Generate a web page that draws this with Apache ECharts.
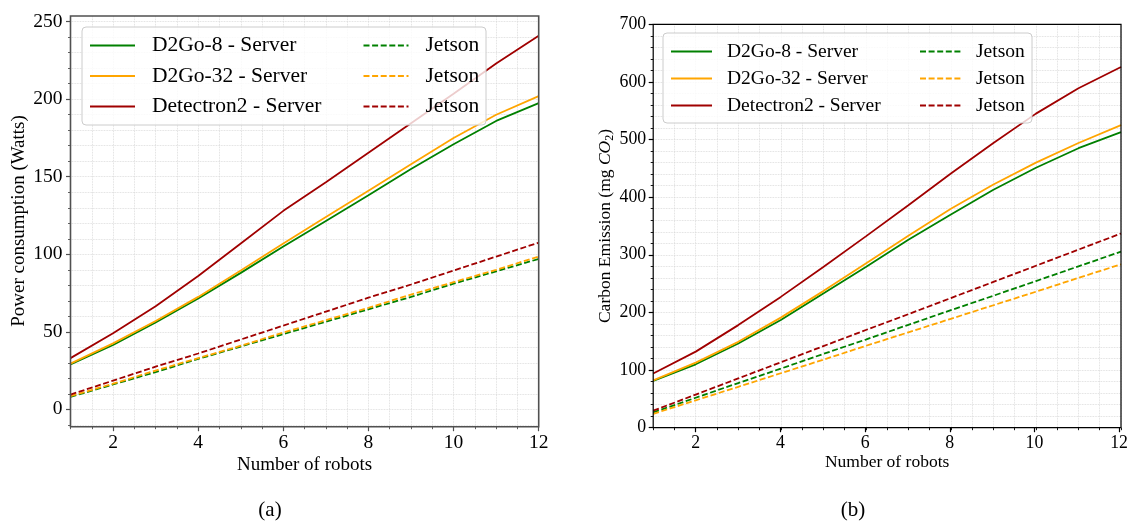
<!DOCTYPE html>
<html><head><meta charset="utf-8">
<script src="https://cdn.jsdelivr.net/npm/echarts@6/dist/echarts.min.js"></script>
<style>html,body{margin:0;padding:0;background:#fff}#c{width:1131px;height:523px}</style>
</head><body><div id="c"></div>
<script>
// ---------------- data ----------------
const robots = [1, 2, 3, 4, 5, 6, 7, 8, 9, 10, 11, 12];
const serverNames = ['D2Go-8 - Server', 'D2Go-32 - Server', 'Detectron2 - Server'];
const jetsonNames = ['D2Go-8 - Jetson', 'D2Go-32 - Jetson', 'Detectron2 - Jetson'];

const powerD2Go8Server      = [29, 41.5, 56, 71.5, 88, 105, 121.5, 138, 155, 171, 186, 197.5];
const powerD2Go32Server     = [29.5, 42.5, 57, 72.5, 89.5, 107, 124, 141, 158, 175, 190, 202];
const powerDetectron2Server = [33, 49, 66.5, 86, 107, 128, 146.5, 165.5, 184.5, 203.5, 223, 241];
const powerD2Go8Jetson      = [8, 16, 24, 32.5, 40.5, 48.5, 56.5, 64.5, 72.5, 81, 89, 97];
const powerD2Go32Jetson     = [8.5, 16.5, 25, 33, 41, 49.5, 57.5, 65.5, 74, 82, 90, 98.5];
const powerDetectron2Jetson = [9.5, 18.5, 27.5, 36, 45, 54, 63, 72, 80.5, 89.5, 98.5, 107.5];

const carbonD2Go8Server      = [81, 110, 146, 187, 233, 279, 326, 370, 413, 451, 485, 513];
const carbonD2Go32Server     = [82, 113, 149, 191, 237, 285, 333, 380, 422, 460, 494, 525];
const carbonDetectron2Server = [94, 132, 178, 227, 279, 332, 386, 441, 494, 545, 589, 626];
const carbonD2Go8Jetson      = [26.5, 52, 77.5, 102.5, 128, 153, 178.5, 204, 229, 254.5, 280, 305.5];
const carbonD2Go32Jetson     = [24, 47.5, 71, 94.5, 118, 142, 165.5, 189, 212.5, 236, 260, 283.5];
const carbonDetectron2Jetson = [29.5, 57.5, 85.5, 113.5, 141.5, 169.5, 197, 225, 253, 281, 309, 337];

const xTicks = [2, 4, 6, 8, 10, 12];
const powerTicks = [0, 50, 100, 150, 200, 250];
const carbonTicks = [0, 100, 200, 300, 400, 500, 600, 700];

// ---------------- style ----------------
const FONT = '"Liberation Serif", "Times New Roman", serif';
const COLORS = ['#008000', '#ffa500', '#a00000'];
const DASH = [6, 2.6];
const GRIDLINE = { type: 'dotted', color: '#d6d6d6', width: 0.8 };

const option = { animation: false, backgroundColor: '#fff', grid: [], xAxis: [], yAxis: [], series: [], legend: [], graphic: [] };

function addSubplot(p) {
  const gi = option.grid.length;
  const bw = p.box.r - p.box.l, bh = p.box.b - p.box.t;
  const px = v => p.box.l + (v - p.xRange[0]) / (p.xRange[1] - p.xRange[0]) * bw;
  const py = v => p.box.b - (v - p.yRange[0]) / (p.yRange[1] - p.yRange[0]) * bh;
  const xmLo = Math.ceil(p.xRange[0] / p.xMinor - 1e-9) * p.xMinor, xmHi = Math.floor(p.xRange[1] / p.xMinor + 1e-9) * p.xMinor;
  const ymLo = Math.ceil(p.yRange[0] / p.yMinor - 1e-9) * p.yMinor, ymHi = Math.floor(p.yRange[1] / p.yMinor + 1e-9) * p.yMinor;
  const xT0 = p.xTicks[0], xT1 = p.xTicks[p.xTicks.length - 1];
  const yT0 = p.yTicks[0], yT1 = p.yTicks[p.yTicks.length - 1];

  option.grid.push(
    { left: p.box.l, top: p.box.t, width: bw, height: bh, show: true, borderColor: p.spine, borderWidth: p.spineW, backgroundColor: 'transparent', z: 3 },
    { left: px(xmLo), width: px(xmHi) - px(xmLo), top: p.box.t, height: bh },
    { left: p.box.l, width: bw, top: py(ymHi), height: py(ymLo) - py(ymHi) },
    { left: px(xT0), width: px(xT1) - px(xT0), top: p.box.t, height: bh },
    { left: p.box.l, width: bw, top: py(yT1), height: py(yT0) - py(yT1) }
  );
  const hidden = g => ({ gridIndex: g, type: 'value', show: false, min: 0, max: 1, axisLine: { onZero: false } });
  const minorTick = { show: true, length: 2.5, lineStyle: { color: p.spine, width: 0.9 } };
  const majorTick = { show: true, length: 4.5, lineStyle: { color: p.spine, width: 1.2 } };
  const lbl = (m) => ({ show: true, fontFamily: FONT, fontSize: p.tickFont, color: '#000', margin: m });

  // grid 0: data
  option.xAxis.push({ gridIndex: gi, type: 'value', show: false, min: p.xRange[0], max: p.xRange[1], axisLine: { onZero: false } });
  option.yAxis.push({ gridIndex: gi, type: 'value', show: false, min: p.yRange[0], max: p.yRange[1], axisLine: { onZero: false } });
  // grid 1: x minor
  option.xAxis.push({ gridIndex: gi + 1, type: 'value', min: xmLo, max: xmHi, interval: p.xMinor,
    axisLine: { show: false, onZero: false }, axisTick: minorTick, axisLabel: { show: false }, splitLine: { show: true, lineStyle: GRIDLINE } });
  option.yAxis.push(hidden(gi + 1));
  // grid 2: y minor
  option.xAxis.push(hidden(gi + 2));
  option.yAxis.push({ gridIndex: gi + 2, type: 'value', min: ymLo, max: ymHi, interval: p.yMinor,
    axisLine: { show: false, onZero: false }, axisTick: minorTick, axisLabel: { show: false }, splitLine: { show: true, lineStyle: GRIDLINE } });
  // grid 3: x major
  option.xAxis.push({ gridIndex: gi + 3, type: 'value', min: xT0, max: xT1, interval: p.xTicks[1] - p.xTicks[0],
    axisLine: { show: false, onZero: false }, axisTick: majorTick, axisLabel: lbl(p.xLabelMargin), splitLine: { show: false } });
  option.yAxis.push(hidden(gi + 3));
  // grid 4: y major
  option.xAxis.push(hidden(gi + 4));
  option.yAxis.push({ gridIndex: gi + 4, type: 'value', min: yT0, max: yT1, interval: p.yTicks[1] - p.yTicks[0],
    axisLine: { show: false, onZero: false }, axisTick: majorTick, axisLabel: lbl(p.yLabelMargin), splitLine: { show: false } });

  const all = [...p.server, ...p.jetson];
  const names = [...serverNames, ...jetsonNames];
  all.forEach((arr, i) => {
    option.series.push({
      type: 'line', name: names[i], xAxisIndex: gi, yAxisIndex: gi, symbol: 'none', z: 2,
      lineStyle: { color: COLORS[i % 3], width: 1.8, type: i >= 3 ? DASH : 'solid' },
      itemStyle: { color: COLORS[i % 3] },
      data: robots.map((x, k) => [x, arr[k]])
    });
  });

  // legend box + legends
  const L = p.legend;
  option.graphic.push({ type: 'rect', z: 10, shape: { x: L.box[0], y: L.box[1], width: L.box[2], height: L.box[3], r: 4 },
    style: { fill: 'rgba(255,255,255,0.8)', stroke: '#cccccc', lineWidth: 1 } });
  const mkLegend = (left, data) => ({
    z: 20, orient: 'vertical', left: left, top: L.row1 - L.itemH / 2, padding: 0,
    itemWidth: L.iconW, itemHeight: L.itemH, itemGap: L.rowStep - L.textH, selectedMode: false,
    itemStyle: { opacity: 0 },
    data: data, formatter: n => n.endsWith('Jetson') ? 'Jetson' : n,
    textStyle: { fontFamily: FONT, fontSize: L.font, color: '#000', lineHeight: L.itemH, padding: [0, 0, 0, L.textGap - 5] }
  });
  option.legend.push(mkLegend(L.col1, serverNames), mkLegend(L.col2, jetsonNames));

  // axis titles & caption
  option.graphic.push(
    { type: 'text', z: 5, x: (p.box.l + p.box.r) / 2, y: p.xTitleY,
      style: { text: p.xTitle, font: p.titleFont + 'px ' + FONT, fill: '#000', align: 'center', verticalAlign: 'middle' } },
    { type: 'text', z: 5, x: p.yTitleX, y: p.yTitleY, rotation: Math.PI / 2,
      style: { text: p.yTitle, rich: p.yRich, font: p.titleFont + 'px ' + FONT, fontFamily: FONT, fontSize: p.titleFont, fill: '#000', align: 'center', verticalAlign: 'middle' } },
    { type: 'text', z: 5, x: p.captionX, y: 510,
      style: { text: p.caption, font: '21px ' + FONT, fill: '#000', align: 'center', verticalAlign: 'middle' } }
  );
}

addSubplot({
  box: { l: 70.5, t: 16, r: 538.7, b: 426.7 }, xRange: [1, 12], yRange: [-11.22, 253.68],
  xMinor: 0.5, yMinor: 10, xTicks: xTicks, yTicks: powerTicks,
  spine: '#505050', spineW: 1.6, tickFont: 19.5, xLabelMargin: 6, yLabelMargin: 8,
  server: [powerD2Go8Server, powerD2Go32Server, powerDetectron2Server],
  jetson: [powerD2Go8Jetson, powerD2Go32Jetson, powerDetectron2Jetson],
  legend: { box: [82, 27, 404, 98], row1: 44.5, rowStep: 30.5, itemH: 20, textH: 22, iconW: 45, textGap: 17, font: 21.5, col1: 89, col2: 362.5 },
  xTitle: 'Number of robots', xTitleY: 465, titleFont: 19,
  yTitle: 'Power consumption (Watts)', yTitleX: 19.5, yTitleY: 221,
  caption: '(a)', captionX: 270
});
addSubplot({
  box: { l: 653.2, t: 24.3, r: 1121, b: 427.7 }, xRange: [1, 12], yRange: [0, 700],
  xMinor: 0.5, yMinor: 20, xTicks: xTicks, yTicks: carbonTicks,
  spine: '#000000', spineW: 1.2, tickFont: 17.8, xLabelMargin: 6.3, yLabelMargin: 7,
  server: [carbonD2Go8Server, carbonD2Go32Server, carbonDetectron2Server],
  jetson: [carbonD2Go8Jetson, carbonD2Go32Jetson, carbonDetectron2Jetson],
  legend: { box: [663, 33, 369, 90], row1: 50.5, rowStep: 27.5, itemH: 18, textH: 20.5, iconW: 41, textGap: 15, font: 19.5, col1: 670, col2: 919 },
  xTitle: 'Number of robots', xTitleY: 462.5, titleFont: 17.5,
  yTitle: '{n|Carbon Emission (mg }{i|CO}{s|2}{n|)}', yTitleX: 605, yTitleY: 226,
  yRich: {
    n: { fontFamily: FONT, fontSize: 17.5, fill: '#000', lineHeight: 22 },
    i: { fontFamily: FONT, fontSize: 17.5, fontStyle: 'italic', fill: '#000', lineHeight: 22 },
    s: { fontFamily: FONT, fontSize: 12, fill: '#000', lineHeight: 22, verticalAlign: 'bottom', padding: [6, 0, 0, 0] }
  },
  caption: '(b)', captionX: 853
});

const chart = echarts.init(document.getElementById('c'), null, { renderer: 'canvas' });
chart.setOption(option);
</script>
</body></html>
